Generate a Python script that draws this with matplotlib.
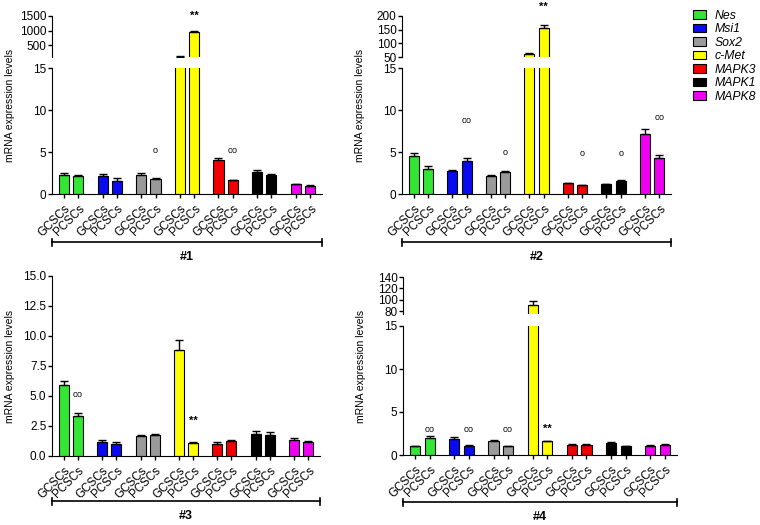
import matplotlib
matplotlib.use('Agg')
import matplotlib.pyplot as plt
import numpy as np
from matplotlib.lines import Line2D
from matplotlib.patches import Patch

plt.rcParams['font.family'] = ['Liberation Sans', 'DejaVu Sans']

genes = ['Nes', 'Msi1', 'Sox2', 'c-Met', 'MAPK3', 'MAPK1', 'MAPK8']
colors = ['#33e633', '#0a0af0', '#9a9a9a', '#ffff00', '#f00000', '#000000', '#f000f0']
cells = ['GCSCs', 'PCSCs']

# panel #1
p1_gc = [2.3, 2.2, 2.3, 115, 4.05, 2.65, 1.15]
p1_gc_err = [0.2, 0.2, 0.15, 5, 0.2, 0.2, 0.05]
p1_pc = [2.2, 1.55, 1.8, 950, 1.67, 2.3, 1.0]
p1_pc_err = [0.1, 0.3, 0.1, 40, 0.05, 0.1, 0.05]
p1_marks = [(2, 'o', 5.2, 'low'), (3, '**', 1500, 'up'), (4, 'oo', 5.2, 'low')]

# panel #2
p2_gc = [4.5, 2.7, 2.15, 62, 1.27, 1.15, 7.1]
p2_gc_err = [0.35, 0.1, 0.1, 3, 0.05, 0.05, 0.6]
p2_pc = [3.0, 3.95, 2.6, 156, 1.07, 1.55, 4.3]
p2_pc_err = [0.35, 0.3, 0.15, 12, 0.05, 0.1, 0.4]
p2_marks = [(1, 'oo', 8.8, 'low'), (2, 'o', 5.0, 'low'), (3, '**', 235, 'up'),
            (4, 'o', 4.8, 'low'), (5, 'o', 4.8, 'low'), (6, 'oo', 9.1, 'low')]

# panel #3
p3_gc = [5.9, 1.2, 1.67, 8.8, 1.0, 1.8, 1.35]
p3_gc_err = [0.35, 0.1, 0.07, 0.9, 0.15, 0.27, 0.18]
p3_pc = [3.3, 1.0, 1.72, 1.08, 1.25, 1.78, 1.14]
p3_pc_err = [0.3, 0.15, 0.1, 0.05, 0.1, 0.22, 0.08]
p3_marks = [(0, 'oo', 5.1, 'low'), (3, '**', 2.9, 'low')]

# panel #4
p4_gc = [1.04, 1.88, 1.65, 91, 1.19, 1.42, 1.1]
p4_gc_err = [0.05, 0.2, 0.1, 6, 0.05, 0.05, 0.05]
p4_pc = [1.95, 1.07, 1.04, 1.58, 1.19, 1.05, 1.2]
p4_pc_err = [0.25, 0.05, 0.05, 0.1, 0.05, 0.05, 0.05]
p4_marks = [(0, 'oo', 3.0, 'low'), (1, 'oo', 3.0, 'low'), (2, 'oo', 3.0, 'low'), (3, '**', 3.0, 'low')]

W, H = 760, 525
fig = plt.figure(figsize=(W / 100, H / 100), dpi=100)

gap = 2.7
xg = np.arange(len(genes)) * gap
xp = xg + 1
bw = 0.7


def rect(l, t, r, b):
    return [l / W, 1 - b / H, (r - l) / W, (b - t) / H]


def draw_bars(ax, gc, gce, pc, pce):
    for x, v, e in [(xg, gc, gce), (xp, pc, pce)]:
        ax.bar(x, v, bw, color=colors, edgecolor='black', linewidth=0.8, zorder=2)
        ax.errorbar(x, v, yerr=[np.zeros(len(e)), e], fmt='none', ecolor='black',
                    elinewidth=1, capsize=2.8, capthick=1, zorder=3)
    ax.set_xlim(-0.83, xp[-1] + 0.83)
    for s in ['top', 'right']:
        ax.spines[s].set_visible(False)
    ax.tick_params(axis='y', labelsize=8.5, length=3, width=1, pad=1)
    ax.tick_params(axis='x', length=3, width=1)


def set_xlabels(ax):
    ticks = np.ravel(np.column_stack([xg, xp]))
    ax.set_xticks(ticks)
    ax.set_xticklabels(cells * len(genes), rotation=45, ha='right',
                       rotation_mode='anchor', fontsize=8.4)


def put_marks(ax_low, ax_up, marks):
    for g, sym, y, where in marks:
        ax = ax_low if where == 'low' else ax_up
        if sym == '**':
            ax.text(xp[g], y, sym, ha='center', va='center', fontsize=8,
                    fontweight='bold', clip_on=False)
        else:
            ax.text(xp[g], y, sym, ha='center', va='center', fontsize=6.5,
                    clip_on=False)


def panel(box_low, box_up, data, up_lim, up_ticks, low_lim, low_ticks, marks, name,
          bracket_y, fmt=None):
    l, t, r, b = box_low
    ax = fig.add_axes(rect(l, t, r, b))
    draw_bars(ax, *data)
    ax.set_ylim(*low_lim)
    ax.set_yticks(low_ticks)
    if fmt:
        ax.set_yticklabels([fmt % v for v in low_ticks])
    set_xlabels(ax)
    axu = None
    top = t
    if box_up is not None:
        lu, tu, ru, bu = box_up
        axu = fig.add_axes(rect(lu, tu, ru, bu))
        draw_bars(axu, *data)
        axu.set_ylim(*up_lim)
        axu.set_yticks(up_ticks)
        axu.spines['bottom'].set_visible(False)
        axu.set_xticks([])
        top = tu
    put_marks(ax, axu, marks)
    # bracket and group label
    y = 1 - bracket_y / H
    fig.add_artist(Line2D([l / W, r / W], [y, y], color='black', lw=1.2,
                          transform=fig.transFigure))
    for xx in (l, r):
        fig.add_artist(Line2D([xx / W, xx / W], [y - 3.5 / H, y + 3.5 / H],
                              color='black', lw=1.2, transform=fig.transFigure))
    fig.text((l + r) / 2 / W, 1 - (bracket_y + 15) / H, name, ha='center',
             va='center', fontsize=9, fontweight='bold')
    fig.text((l - 42) / W, 1 - (top + b) / 2 / H, 'mRNA expression levels',
             rotation=90, ha='center', va='center', fontsize=7.5)


panel((52, 68, 322, 194), (52, 16, 322, 57), (p1_gc, p1_gc_err, p1_pc, p1_pc_err),
      (100, 1500), [500, 1000, 1500], (0, 15), [0, 5, 10, 15], p1_marks, '#1', 242)
panel((402, 68, 671, 194), (402, 16, 671, 57), (p2_gc, p2_gc_err, p2_pc, p2_pc_err),
      (50, 200), [50, 100, 150, 200], (0, 15), [0, 5, 10, 15], p2_marks, '#2', 242)
panel((52, 276, 320, 456), None, (p3_gc, p3_gc_err, p3_pc, p3_pc_err),
      None, None, (0, 15), [0, 2.5, 5, 7.5, 10, 12.5, 15], p3_marks, '#3', 501,
      fmt='%.1f')
panel((403, 326, 677, 455), (403, 277, 677, 314), (p4_gc, p4_gc_err, p4_pc, p4_pc_err),
      (75, 140), [80, 100, 120, 140], (0, 15), [0, 5, 10, 15], p4_marks, '#4', 502)

handles = [Patch(facecolor=c, edgecolor='black', linewidth=0.8) for c in colors]
leg = fig.legend(handles, genes, loc='upper left', bbox_to_anchor=(693 / W, 1 - 10 / H),
                 frameon=False, borderpad=0, borderaxespad=0, handlelength=1.05,
                 handleheight=0.7, handletextpad=0.75, labelspacing=0.12,
                 prop={'size': 8.8, 'style': 'italic'})

fig.savefig('out.png', dpi=100)
